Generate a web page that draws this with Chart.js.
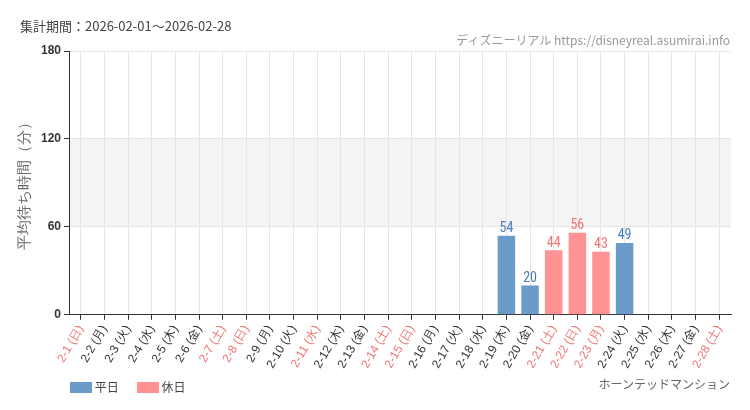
<!DOCTYPE html>
<html><head><meta charset="utf-8">
<script src="https://cdn.jsdelivr.net/npm/chart.js@4"></script>
<style>
body{margin:0;background:#fff;font-family:"Noto Sans CJK JP",sans-serif;}
#wrap{position:relative;width:750px;height:410px;}
.t{position:absolute;font-size:12px;color:#444;white-space:nowrap;}
</style></head><body>
<div id="wrap">
<canvas id="c" width="750" height="410"></canvas>
<div class="t" style="left:20px;top:16px;font-size:13px;">集計期間：2026-02-01～2026-02-28</div>
<div class="t" style="right:20px;top:31px;color:#999;font-size:12px;">ディズニーリアル https://disneyreal.asumirai.info</div>
<div class="t" style="right:20px;top:375px;color:#666;">ホーンテッドマンション</div>
<div class="t" style="left:70px;top:378px;"><span style="display:inline-block;width:22px;height:11px;background:#6b9bc9;vertical-align:-1px"></span> 平日　<span style="display:inline-block;width:22px;height:11px;background:#ff9393;vertical-align:-1px;margin-left:6px"></span> 休日</div>
</div>
<script>
const labels=["2-1 (日)","2-2 (月)","2-3 (火)","2-4 (水)","2-5 (木)","2-6 (金)","2-7 (土)","2-8 (日)","2-9 (月)","2-10 (火)","2-11 (水)","2-12 (木)","2-13 (金)","2-14 (土)","2-15 (日)","2-16 (月)","2-17 (火)","2-18 (水)","2-19 (木)","2-20 (金)","2-21 (土)","2-22 (日)","2-23 (月)","2-24 (火)","2-25 (水)","2-26 (木)","2-27 (金)","2-28 (土)"];
const holidays=[1,0,0,0,0,0,1,1,0,0,1,0,0,1,1,0,0,0,0,0,1,1,1,0,0,0,0,1];
const values=[null,null,null,null,null,null,null,null,null,null,null,null,null,null,null,null,null,null,54,20,44,56,43,49,null,null,null,null];
const yTicks=[0,60,120,180];
const band={id:'band',beforeDraw(ch){const {ctx,chartArea:a,scales:{y}}=ch;ctx.save();ctx.fillStyle='#f4f4f4';const t=y.getPixelForValue(120),b=y.getPixelForValue(60);ctx.fillRect(a.left,t,a.right-a.left,b-t);ctx.restore();}};
const lbl={id:'lbl',afterDatasetsDraw(ch){const {ctx}=ch;const m=ch.getDatasetMeta(0);ctx.save();ctx.font='14px "Roboto Condensed","Liberation Sans Narrow",sans-serif';ctx.textAlign='center';ctx.textBaseline='bottom';m.data.forEach((e,i)=>{if(values[i]==null)return;ctx.fillStyle=holidays[i]?'#f07373':'#4a7fb8';ctx.fillText(values[i],e.x,e.y);});ctx.restore();}};
new Chart(document.getElementById('c'),{type:'bar',
data:{labels,datasets:[{data:values,backgroundColor:holidays.map(h=>h?'#ff9393':'#6b9bc9'),barPercentage:0.74,categoryPercentage:1}]},
options:{responsive:false,animation:false,events:[],layout:{padding:{left:12,right:19,top:51,bottom:36}},
plugins:{legend:{display:false},tooltip:{enabled:false}},
scales:{
x:{offset:true,grid:{offset:false,color:'#e6e6e6',tickColor:'#333',tickLength:5},border:{color:'#333'},
ticks:{autoSkip:false,maxRotation:60,minRotation:60,font:{size:12},color:c=>holidays[c.index]?'#f07373':'#333'}},
y:{min:0,max:180,afterBuildTicks(s){s.ticks=yTicks.map(v=>({value:v}));},grid:{color:'#e6e6e6',tickColor:'#333',tickLength:5},border:{color:'#333'},
ticks:{font:{size:12,weight:'bold'},color:'#333'},
title:{display:true,text:'平均待ち時間（分）',font:{size:15},color:'#666'}}}},
plugins:[band,lbl]});
</script></body></html>
